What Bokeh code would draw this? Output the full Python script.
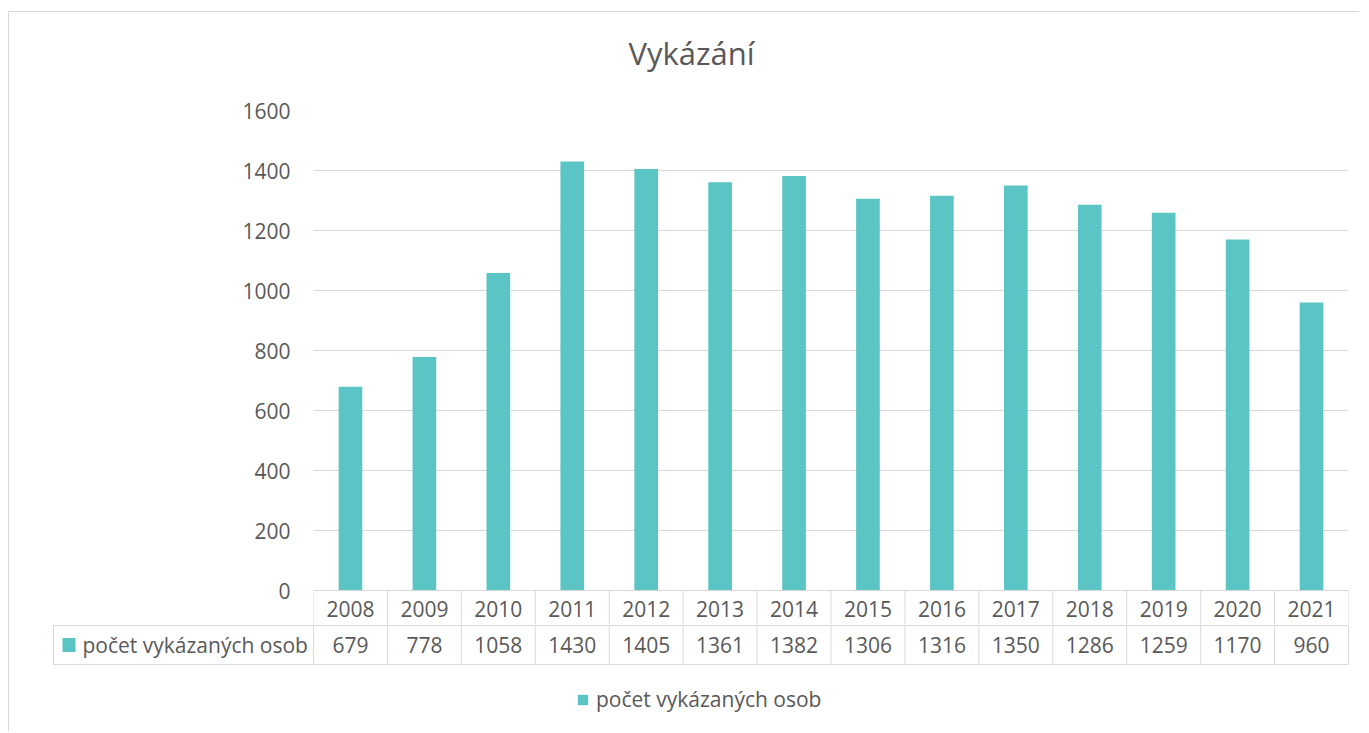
from bokeh.plotting import figure
from bokeh.models import FactorRange, Range1d, FixedTicker, Legend, LegendItem, Title
from bokeh.embed import file_html
from bokeh.resources import INLINE
from bokeh.core.properties import value

# ---------------- data ----------------
title_text = "Vykázání"
series_name = "počet vykázaných osob"
years = ["2008", "2009", "2010", "2011", "2012", "2013", "2014",
         "2015", "2016", "2017", "2018", "2019", "2020", "2021"]
counts = [679, 778, 1058, 1430, 1405, 1361, 1382,
          1306, 1316, 1350, 1286, 1259, 1170, 960]
y_ticks = [0, 200, 400, 600, 800, 1000, 1200, 1400, 1600]

# ---------------- style ----------------
BAR = "#5BC5C5"
TXT = "#595959"
GRID = "#D9D9D9"
FONT = "Open Sans"
FS = "21px"

# ---------------- layout (page pixels) ----------------
ORIGIN_X = 9          # canvas left on page
ORIGIN_Y = 12         # canvas top on page
W = 1351
FRAME_L, FRAME_R = 313, 1348
FRAME_T = 110
ZERO_Y = 590
HEAD_B = 626          # bottom of header row
ROW_B = 665           # bottom of data row
TABLE_L = 53
FIG1_B = 625
FIG2_H = 107

n = len(years)
ymax = y_ticks[-1]
ppu = (ZERO_Y - FRAME_T) / ymax            # pixels per value unit
ystart = -(FIG1_B - ZERO_Y) / ppu

p1 = figure(width=W, height=FIG1_B - ORIGIN_Y,
            x_range=FactorRange(*years), y_range=Range1d(ystart, ymax),
            output_backend="svg", toolbar_location=None,
            min_border_left=FRAME_L - ORIGIN_X,
            min_border_right=W - (FRAME_R - ORIGIN_X),
            min_border_top=FRAME_T - ORIGIN_Y, min_border_bottom=0)
p1.outline_line_color = None
p1.background_fill_color = "white"
p1.border_fill_color = "white"
p1.xaxis.visible = False
p1.xgrid.grid_line_color = None
p1.margin = (ORIGIN_Y - 1, 0, 0, ORIGIN_X - 1)
p1.styles = {"border-left": "1px solid #D9D9D9",
             "border-top": "1px solid #D9D9D9"}

# real title, with a blank spacer title between it and the plot frame
p1.title.text = title_text
p1.title.text_font = FONT
p1.title.text_font_size = "31px"
p1.title.text_font_style = "normal"
p1.title.text_color = TXT
p1.title.align = "left"
p1.title.offset = 628 - FRAME_L
p1.title.standoff = 0

spacer = Title(text=" ", text_font_size="10px", standoff=24)
p1.add_layout(spacer, "above")

ax = p1.yaxis[0]
ax.ticker = FixedTicker(ticks=y_ticks)
ax.axis_line_color = None
ax.major_tick_line_color = None
ax.minor_tick_line_color = None
ax.major_tick_out = 0
ax.major_tick_in = 0
ax.major_label_standoff = 23
ax.major_label_text_font = FONT
ax.major_label_text_font_size = FS
ax.major_label_text_color = TXT
p1.ygrid.grid_line_color = GRID
p1.ygrid.grid_line_width = 1

bars = p1.vbar(x=years, top=counts, width=0.32, fill_color=BAR, line_color=None)

# header row of data table (years)
bounds = list(range(n + 1))
p1.segment(x0=bounds, y0=[0] * (n + 1), x1=bounds, y1=[ystart] * (n + 1),
           line_color=GRID, line_width=1)
p1.segment(x0=[0], y0=[0], x1=[n], y1=[0], line_color=GRID, line_width=1)
head_y = -((ZERO_Y + HEAD_B) / 2 - ZERO_Y) / ppu
p1.text(x=years, y=[head_y] * n, text=years, text_align="center",
        text_baseline="middle", text_font=value(FONT), text_font_size=FS,
        text_color=TXT)

# ---------------- figure 2: data row + legend ----------------
cw = (FRAME_R - FRAME_L) / n
def u(px):
    return (px - FRAME_L) / cw

p2 = figure(width=W, height=FIG2_H,
            x_range=Range1d(u(ORIGIN_X), u(ORIGIN_X + W)),
            y_range=Range1d(FIG2_H, 0),
            x_axis_type=None, y_axis_type=None,
            output_backend="svg", toolbar_location=None,
            min_border=0)
p2.outline_line_color = None
p2.grid.visible = False
p2.background_fill_color = "white"
p2.border_fill_color = "white"
p2.margin = (0, 0, 0, ORIGIN_X - 1)
p2.styles = {"border-left": "1px solid #D9D9D9"}

def yy(py):
    return py - FIG1_B

tl = u(TABLE_L)
# horizontal lines
p2.segment(x0=[tl, tl], y0=[yy(HEAD_B), yy(ROW_B)], x1=[n, n],
           y1=[yy(HEAD_B), yy(ROW_B)], line_color=GRID, line_width=1)
# verticals
p2.segment(x0=bounds, y0=[0] * (n + 1), x1=bounds, y1=[yy(ROW_B)] * (n + 1),
           line_color=GRID, line_width=1)
p2.segment(x0=[tl], y0=[yy(HEAD_B)], x1=[tl], y1=[yy(ROW_B)],
           line_color=GRID, line_width=1)

row_y = yy((HEAD_B + ROW_B) / 2)
p2.text(x=[i + 0.5 for i in range(n)], y=[row_y] * n,
        text=[str(c) for c in counts], text_align="center",
        text_baseline="middle", text_font=value(FONT), text_font_size=FS,
        text_color=TXT)
key = p2.rect(x=[u(68.5)], y=[row_y], width=13, height=14,
              width_units="screen", height_units="screen",
              fill_color=BAR, line_color=None)
p2.text(x=[u(82)], y=[row_y], text=[series_name], text_align="left",
        text_baseline="middle", text_font=value(FONT), text_font_size=FS,
        text_color=TXT)

legend = Legend(items=[LegendItem(label=series_name, renderers=[key])],
                location=(576 - ORIGIN_X, FIG2_H - (702 - FIG1_B) - 12),
                orientation="horizontal",
                glyph_width=13, glyph_height=13, label_height=24,
                label_standoff=7, padding=0, margin=0, spacing=0,
                border_line_color=None, background_fill_alpha=0,
                label_text_font=FONT, label_text_font_size=FS,
                label_text_color=TXT)
p2.add_layout(legend, "center")

open("out.html", "w").write(file_html([p1, p2], INLINE))
